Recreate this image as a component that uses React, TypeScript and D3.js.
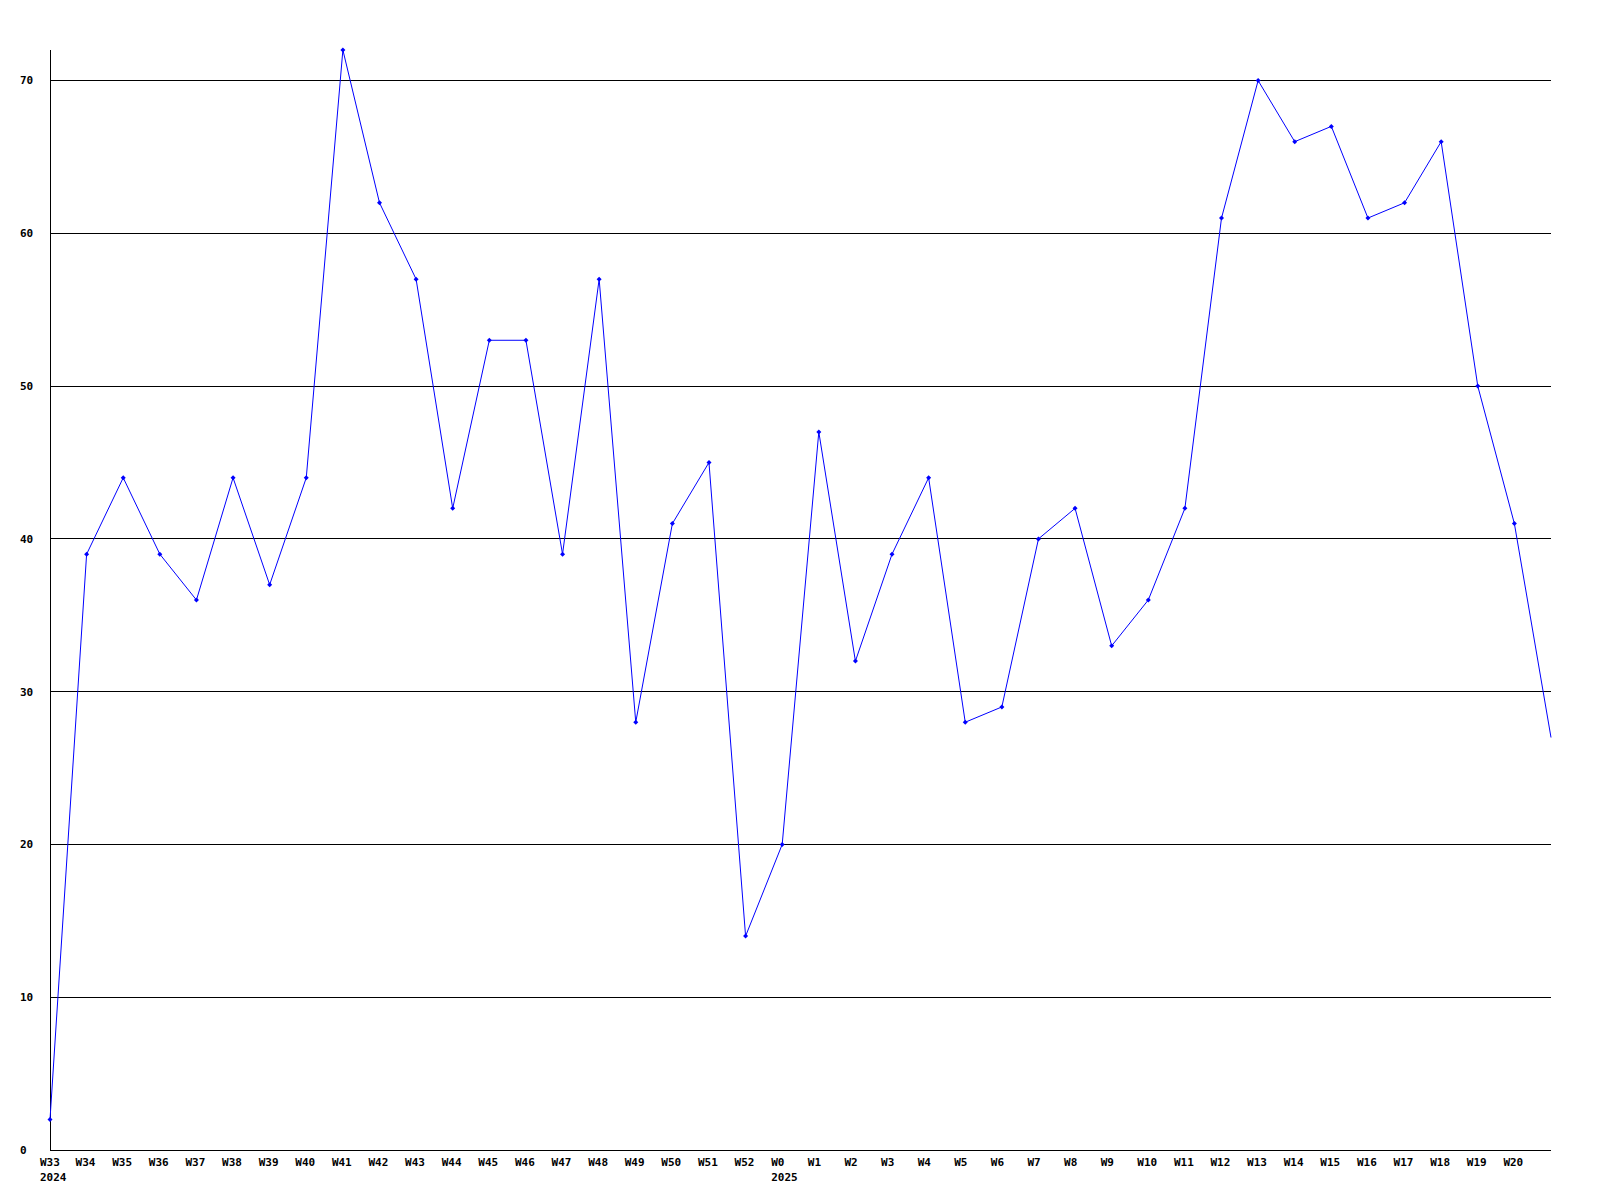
import React from "react";
import * as d3 from "d3";

const weeks = [
  "W33","W34","W35","W36","W37","W38","W39","W40","W41","W42","W43","W44","W45","W46","W47","W48","W49","W50","W51","W52",
  "W0","W1","W2","W3","W4","W5","W6","W7","W8","W9","W10","W11","W12","W13","W14","W15","W16","W17","W18","W19","W20","",
];
const years: Record<string, string> = { W33: "2024", W0: "2025" };
const values = [
  2, 39, 44, 39, 36, 44, 37, 44, 72, 62, 57, 42, 53, 53, 39, 57, 28, 41, 45, 14,
  20, 47, 32, 39, 44, 28, 29, 40, 42, 33, 36, 42, 61, 70, 66, 67, 61, 62, 66, 50, 41, 27,
];
const yTicks = [0, 10, 20, 30, 40, 50, 60, 70];

const W = 1600, H = 1200;
const left = 50, right = 1551, top = 50, bottom = 1150;
const font = "'DejaVu Sans Mono', monospace";

export default function App() {
  const x = d3.scaleLinear().domain([0, values.length - 1]).range([left, right]);
  const y = d3.scaleLinear().domain([0, 72]).range([bottom, top]);
  const line = d3.line<number>().x((_, i) => x(i)).y((d) => y(d));
  return (
    <svg width={W} height={H} style={{ position: "absolute", left: 0, top: 0, background: "#fff" }}>
      <rect x={0} y={0} width={W} height={H} fill="#fff" />
      {yTicks.map((t) => (
        <g key={t}>
          {t > 0 && (
            <line x1={left} x2={right} y1={y(t)} y2={y(t)} stroke="#000" strokeWidth={1} shapeRendering="crispEdges" />
          )}
          <text x={20} y={y(t)} dy="0.35em" fontFamily={font} fontWeight="bold" fontSize={11} fill="#000">
            {t}
          </text>
        </g>
      ))}
      <line x1={left} x2={left} y1={top} y2={bottom} stroke="#000" strokeWidth={1} shapeRendering="crispEdges" />
      <line x1={left} x2={right} y1={bottom} y2={bottom} stroke="#000" strokeWidth={1} shapeRendering="crispEdges" />
      {weeks.map((w, i) =>
        w ? (
          <g key={i}>
            <text x={x(i) - (i === 0 ? 10 : 11)} y={1166} fontFamily={font} fontWeight="bold" fontSize={11} fill="#000">
              {w}
            </text>
            {years[w] && (
              <text x={x(i) - (i === 0 ? 10 : 11)} y={1181} fontFamily={font} fontWeight="bold" fontSize={11} fill="#000">
                {years[w]}
              </text>
            )}
          </g>
        ) : null
      )}
      <path d={line(values) || ""} fill="none" stroke="#0000ff" strokeWidth={1} />
      {values.map((v, i) =>
        i < values.length - 1 ? (
          <path
            key={i}
            d={`M${x(i)},${y(v) - 2.5}L${x(i) + 2.5},${y(v)}L${x(i)},${y(v) + 2.5}L${x(i) - 2.5},${y(v)}Z`}
            fill="#0000ff"
          />
        ) : null
      )}
    </svg>
  );
}
